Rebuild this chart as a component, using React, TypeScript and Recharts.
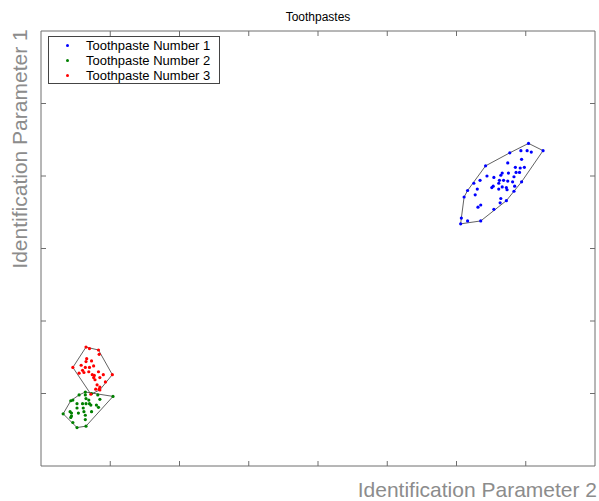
import { ScatterChart, Scatter, XAxis, YAxis } from "recharts";

type Pt = { x: number; y: number };

const SERIES_NAMES = ["Toothpaste Number 1", "Toothpaste Number 2", "Toothpaste Number 3"];
const SERIES_COLORS = ["#0000ff", "#008000", "#ff0000"];

const X_TICKS = [1, 2, 3, 4, 5, 6, 7];
const Y_TICKS = [1, 2, 3, 4, 5];

// toothpaste 1 (blue)
const paste1: [number, number][] = [
  [7.04, 4.45], [7.25, 4.35], [6.94, 3.92], [6.83, 3.79], [6.72, 3.66], [6.54, 3.54], [6.35, 3.38],
  [6.16, 3.38], [6.06, 3.34], [6.07, 3.42], [6.11, 3.71], [6.16, 3.8], [6.25, 3.9], [6.42, 4.14],
  [6.77, 4.32], [6.93, 4.35], [7.02, 4.35], [7.08, 4.33], [6.74, 4.18], [6.94, 4.23], [6.85, 4.12],
  [6.92, 4.11], [6.98, 4.12], [6.66, 4.04], [6.64, 4.01], [6.75, 4.04], [6.86, 4.05], [6.91, 4.05],
  [6.44, 4.0], [6.54, 3.98], [6.34, 3.94], [6.62, 3.94], [6.68, 3.94], [6.74, 3.93], [6.83, 3.99],
  [6.81, 3.92], [6.53, 3.86], [6.51, 3.84], [6.61, 3.9], [6.66, 3.85], [6.72, 3.84], [6.84, 3.86],
  [6.3, 3.82], [6.27, 3.74], [6.61, 3.82], [6.73, 3.81], [6.64, 3.69], [6.63, 3.63], [6.35, 3.6],
  [6.31, 3.57],
];

// toothpaste 2 (green)
const paste2: [number, number][] = [
  [0.32, 0.72], [0.43, 0.9], [0.46, 0.91], [0.55, 0.98], [0.64, 0.98], [0.65, 0.93], [0.73, 1.0],
  [0.82, 0.98], [0.85, 0.92], [1.04, 0.96], [0.52, 0.86], [0.6, 0.86], [0.65, 0.86], [0.7, 0.86],
  [0.72, 0.84], [0.8, 0.84], [0.83, 0.81], [0.42, 0.75], [0.44, 0.73], [0.54, 0.73], [0.61, 0.8],
  [0.62, 0.75], [0.64, 0.7], [0.73, 0.75], [0.43, 0.67], [0.64, 0.64], [0.46, 0.6], [0.52, 0.53],
  [0.65, 0.55], [0.69, 0.91], [0.52, 0.8], [0.44, 0.69], [0.64, 1.02],
];

// toothpaste 3 (red)
const paste3: [number, number][] = [
  [0.65, 1.64], [0.7, 1.62], [0.83, 1.6], [0.84, 1.54], [0.66, 1.48], [0.65, 1.44], [0.73, 1.45],
  [0.58, 1.39], [0.64, 1.36], [0.7, 1.36], [0.76, 1.38], [0.46, 1.36], [0.55, 1.28], [0.62, 1.29],
  [0.69, 1.3], [0.74, 1.26], [0.77, 1.25], [0.83, 1.3], [0.9, 1.26], [1.03, 1.26], [0.85, 1.22],
  [0.76, 1.22], [0.78, 1.19], [0.93, 1.16], [0.81, 1.12], [0.85, 1.09], [0.79, 1.06], [0.84, 1.06],
  [0.6, 1.32], [0.72, 0.99], [0.85, 1.05],
];

const toPts = (arr: [number, number][]): Pt[] => arr.map(([x, y]) => ({ x, y }));

// monotone chain convex hull, closed (first point repeated)
function hull(pts: Pt[]): Pt[] {
  const p = [...pts].sort((a, b) => a.x - b.x || a.y - b.y);
  const cross = (o: Pt, a: Pt, b: Pt) => (a.x - o.x) * (b.y - o.y) - (a.y - o.y) * (b.x - o.x);
  const lower: Pt[] = [];
  for (const q of p) {
    while (lower.length >= 2 && cross(lower[lower.length - 2], lower[lower.length - 1], q) <= 0) lower.pop();
    lower.push(q);
  }
  const upper: Pt[] = [];
  for (let i = p.length - 1; i >= 0; i--) {
    const q = p[i];
    while (upper.length >= 2 && cross(upper[upper.length - 2], upper[upper.length - 1], q) <= 0) upper.pop();
    upper.push(q);
  }
  const h = lower.slice(0, -1).concat(upper.slice(0, -1));
  return [...h, h[0]];
}

const groups = [toPts(paste1), toPts(paste2), toPts(paste3)];

const FONT = "'Liberation Sans', Arial, Helvetica, sans-serif";
const AXIS = "#6e6e6e";
const TICK_LEN = 5;

// inward tick marks, no labels
const inTick = (dx: number, dy: number) => (props: any) => (
  <line x1={props.x} y1={props.y} x2={props.x + dx * TICK_LEN} y2={props.y + dy * TICK_LEN} stroke={AXIS} />
);

const dot = (color: string) => (props: any) => <circle cx={props.cx} cy={props.cy} r={1.6} fill={color} />;
const nothing = () => <g />;

export default function App() {
  return (
    <div style={{ position: "absolute", left: 0, top: 0, width: 599, height: 501, background: "#fff", fontFamily: FONT }}>
      <ScatterChart width={599} height={501} margin={{ top: 31, right: 4, bottom: 35, left: 41 }}>
        <XAxis type="number" dataKey="x" domain={[0, 8]} ticks={X_TICKS} tick={inTick(0, -1)} tickLine={false}
          tickSize={0} tickMargin={0} mirror stroke={AXIS} allowDataOverflow />
        <XAxis xAxisId="top" orientation="top" type="number" dataKey="x" domain={[0, 8]} ticks={X_TICKS}
          tick={inTick(0, 1)} tickLine={false} tickSize={0} tickMargin={0} mirror stroke={AXIS} allowDataOverflow />
        <YAxis type="number" dataKey="y" domain={[0, 6]} ticks={Y_TICKS} tick={inTick(1, 0)} tickLine={false}
          tickSize={0} tickMargin={0} mirror stroke={AXIS} allowDataOverflow />
        <YAxis yAxisId="right" orientation="right" type="number" dataKey="y" domain={[0, 6]} ticks={Y_TICKS}
          tick={inTick(-1, 0)} tickLine={false} tickSize={0} tickMargin={0} mirror stroke={AXIS} allowDataOverflow />
        {groups.map((g, i) => (
          <Scatter key={"h" + i} data={hull(g)} line={{ stroke: "#3a3a3a", strokeWidth: 0.8 }} shape={nothing}
            legendType="none" isAnimationActive={false} />
        ))}
        {groups.map((g, i) => (
          <Scatter key={"s" + i} name={SERIES_NAMES[i]} data={g} shape={dot(SERIES_COLORS[i])}
            isAnimationActive={false} />
        ))}
      </ScatterChart>

      <svg width={599} height={501} style={{ position: "absolute", left: 0, top: 0, pointerEvents: "none" }}>
        <text x={318} y={21} textAnchor="middle" fontSize={12} fill="#000" fontFamily={FONT}>Toothpastes</text>
        <text x={597} y={497} textAnchor="end" fontSize={21} fill="#8c8c8c" fontFamily={FONT}>
          Identification Parameter 2
        </text>
        <text x={27} y={149} textAnchor="middle" fontSize={21} fill="#8c8c8c" fontFamily={FONT}
          transform="rotate(-90 27 149)">
          Identification Parameter 1
        </text>
      </svg>

      <div style={{ position: "absolute", left: 48, top: 36, width: 170, height: 46, border: "1px solid #444",
        background: "#fff", fontSize: 13, lineHeight: "15px" }}>
        {SERIES_NAMES.map((n, i) => (
          <div key={n} style={{ position: "relative", height: 15, paddingLeft: 37, marginTop: i === 0 ? 1 : 0 }}>
            <span style={{ position: "absolute", left: 17, top: 6, width: 3, height: 3, borderRadius: 2,
              background: SERIES_COLORS[i] }} />
            {n}
          </div>
        ))}
      </div>
    </div>
  );
}
